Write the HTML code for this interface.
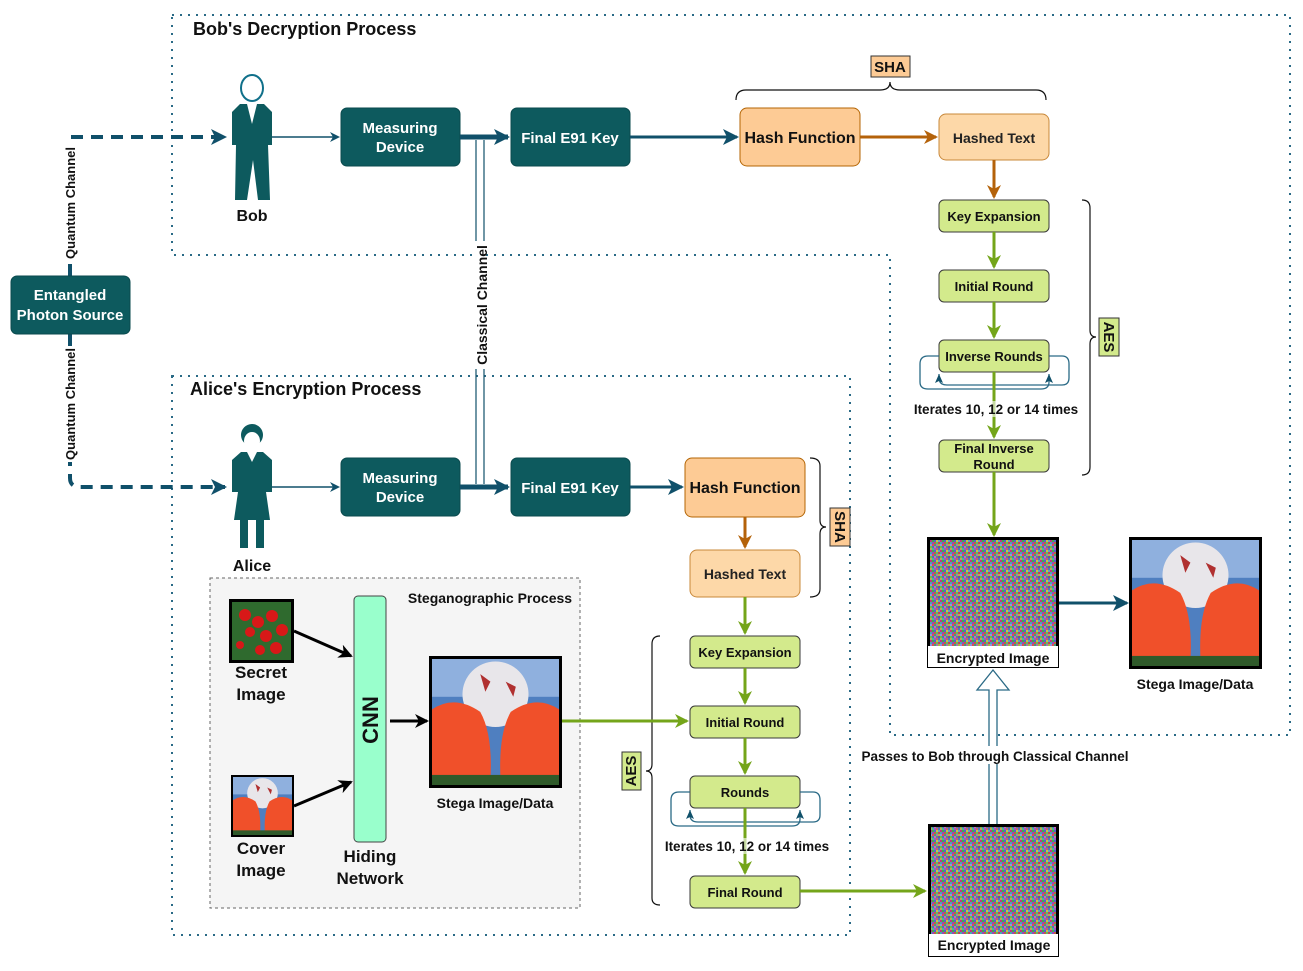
<!DOCTYPE html>
<html><head><meta charset="utf-8"><style>
html,body{margin:0;padding:0;background:#fff;}
svg text{font-family:"Liberation Sans",Arial,sans-serif;}
</style></head><body>
<svg width="1303" height="966" viewBox="0 0 1303 966" xmlns="http://www.w3.org/2000/svg">
<defs>
<marker id="mt" markerWidth="10" markerHeight="10" refX="8" refY="5" orient="auto" markerUnits="userSpaceOnUse"><path d="M0,0 L10,5 L0,10 L3,5 z" fill="#10506a"/></marker>
<marker id="mtb" markerWidth="16" markerHeight="16" refX="14" refY="8" orient="auto" markerUnits="userSpaceOnUse"><path d="M0,0 L16,8 L0,16 L4,8 z" fill="#10506a"/></marker>
<marker id="mg" markerWidth="14" markerHeight="14" refX="12" refY="7" orient="auto" markerUnits="userSpaceOnUse"><path d="M0,0 L14,7 L0,14 L4,7 z" fill="#74a51a"/></marker>
<marker id="mo" markerWidth="14" markerHeight="14" refX="12" refY="7" orient="auto" markerUnits="userSpaceOnUse"><path d="M0,0 L14,7 L0,14 L4,7 z" fill="#b4620a"/></marker>
<marker id="mk" markerWidth="14" markerHeight="14" refX="12" refY="7" orient="auto" markerUnits="userSpaceOnUse"><path d="M0,0 L14,7 L0,14 L4,7 z" fill="#000"/></marker>
<marker id="ms" markerWidth="8" markerHeight="9" refX="4" refY="0" orient="0" markerUnits="userSpaceOnUse"><path d="M0,9 L4,0 L8,9 L4,7 z" fill="#10506a"/></marker>
<pattern id="noise" width="10" height="10" patternUnits="userSpaceOnUse">
<rect width="10" height="10" fill="#8a7f8c"/>
<rect x="0" y="0" width="2" height="2" fill="#c23a7a"/><rect x="2" y="0" width="2" height="2" fill="#3bb04a"/><rect x="4" y="0" width="2" height="2" fill="#5060d0"/><rect x="6" y="0" width="2" height="2" fill="#d0c040"/><rect x="8" y="0" width="2" height="2" fill="#60a0c0"/>
<rect x="0" y="2" width="2" height="2" fill="#40b0b0"/><rect x="2" y="2" width="2" height="2" fill="#a040c0"/><rect x="4" y="2" width="2" height="2" fill="#c06040"/><rect x="6" y="2" width="2" height="2" fill="#60c060"/><rect x="8" y="2" width="2" height="2" fill="#c04060"/>
<rect x="0" y="4" width="2" height="2" fill="#9090e0"/><rect x="2" y="4" width="2" height="2" fill="#e05050"/><rect x="4" y="4" width="2" height="2" fill="#40a080"/><rect x="6" y="4" width="2" height="2" fill="#b070b0"/><rect x="8" y="4" width="2" height="2" fill="#a0c040"/>
<rect x="0" y="6" width="2" height="2" fill="#70c040"/><rect x="2" y="6" width="2" height="2" fill="#5070c0"/><rect x="4" y="6" width="2" height="2" fill="#d070a0"/><rect x="6" y="6" width="2" height="2" fill="#509090"/><rect x="8" y="6" width="2" height="2" fill="#8040a0"/>
<rect x="0" y="8" width="2" height="2" fill="#c0a060"/><rect x="2" y="8" width="2" height="2" fill="#40c090"/><rect x="4" y="8" width="2" height="2" fill="#a050d0"/><rect x="6" y="8" width="2" height="2" fill="#d06060"/><rect x="8" y="8" width="2" height="2" fill="#4080b0"/>
</pattern>
<g id="stega">
<rect x="0" y="0" width="100" height="100" fill="#4f7fc0"/>
<rect x="0" y="0" width="100" height="30" fill="#8fb0de"/>
<circle cx="50" cy="28" r="26" fill="#e8e6ea"/>
<path d="M38,12 l8,6 l-4,8 z M58,18 l8,4 l-2,8 z" fill="#b03030"/>
<path d="M0,40 Q18,28 38,42 Q48,60 46,96 L0,100 z" fill="#f0502a"/>
<path d="M100,40 Q82,28 62,42 Q52,60 54,96 L100,100 z" fill="#f0502a"/>
<rect x="0" y="92" width="100" height="8" fill="#2f5a2a"/>
</g>
</defs>

<path d="M172,15 H1290 V735 H890 V255 H172 Z" fill="none" stroke="#2a6a86" stroke-width="2" stroke-dasharray="2,6"/>
<path d="M172,376 H850 V935 H172 Z" fill="none" stroke="#2a6a86" stroke-width="2" stroke-dasharray="2,6"/>
<text x="193" y="35" font-size="18" font-weight="bold" fill="#111">Bob's Decryption Process</text>
<text x="190" y="395" font-size="18" font-weight="bold" fill="#111">Alice's Encryption Process</text>

<path d="M70,276 V137 H225" fill="none" stroke="#10506a" stroke-width="4" stroke-dasharray="12,8" marker-end="url(#mtb)"/>
<path d="M70,334 V478 Q70,487 80,487 H225" fill="none" stroke="#10506a" stroke-width="4" stroke-dasharray="12,8" marker-end="url(#mtb)"/>
<rect x="62" y="144" width="16" height="118" fill="#fff"/>
<text transform="translate(75,203) rotate(-90)" text-anchor="middle" font-size="13" font-weight="bold" fill="#111">Quantum Channel</text>
<rect x="62" y="346" width="16" height="116" fill="#fff"/>
<text transform="translate(75,404) rotate(-90)" text-anchor="middle" font-size="13" font-weight="bold" fill="#111">Quantum Channel</text>
<rect x="11" y="276" width="119" height="58" rx="6" fill="#0d5a5e" stroke="#0a4a4e"/>
<text x="70" y="300" text-anchor="middle" font-size="15" font-weight="bold" fill="#fff">Entangled</text>
<text x="70" y="320" text-anchor="middle" font-size="15" font-weight="bold" fill="#fff">Photon Source</text>

<g fill="#0d5a5e">
<ellipse cx="252" cy="88" rx="11" ry="13" fill="#fff" stroke="#10708a" stroke-width="2"/>
<path d="M240,104 H264 L272,112 V145 H268 L270,200 H258 L253,160 L247,200 H235 L236,145 H232 V112 Z"/>
</g>
<path d="M247,104 L252,124 L257,104 Z" fill="#fff"/>
<text x="252" y="221" text-anchor="middle" font-size="16" font-weight="bold" fill="#111">Bob</text>
<g fill="#0d5a5e">
<ellipse cx="252" cy="435" rx="11" ry="11"/>
<ellipse cx="252" cy="441" rx="8" ry="9" fill="#fff"/>
<path d="M241,452 H263 L272,460 V492 H266 L270,520 H234 L238,492 H232 V460 Z"/>
<rect x="240" y="518" width="8" height="30"/><rect x="256" y="518" width="8" height="30"/>
</g>
<path d="M247,452 L252,462 L257,452 Z" fill="#fff"/>
<text x="252" y="571" text-anchor="middle" font-size="16" font-weight="bold" fill="#111">Alice</text>

<line x1="272" y1="137" x2="338" y2="137" stroke="#10506a" stroke-width="1.5" marker-end="url(#mt)"/>
<line x1="272" y1="487" x2="338" y2="487" stroke="#10506a" stroke-width="1.5" marker-end="url(#mt)"/>

<line x1="476" y1="140" x2="476" y2="484" stroke="#10506a" stroke-width="1.2"/>
<line x1="484" y1="140" x2="484" y2="484" stroke="#10506a" stroke-width="1.2"/>
<rect x="474" y="241" width="12" height="128" fill="#fff"/>
<text transform="translate(487,305) rotate(-90)" text-anchor="middle" font-size="14" font-weight="bold" fill="#111">Classical Channel</text>

<g fill="#0d5a5e" stroke="#0a4a4e">
<rect x="341" y="108" width="119" height="58" rx="6"/>
<rect x="511" y="108" width="119" height="58" rx="6"/>
<rect x="341" y="458" width="119" height="58" rx="6"/>
<rect x="511" y="458" width="119" height="58" rx="6"/>
</g>
<g font-size="15" font-weight="bold" fill="#fff" text-anchor="middle">
<text x="400" y="133">Measuring</text><text x="400" y="152">Device</text>
<text x="570" y="143">Final E91 Key</text>
<text x="400" y="483">Measuring</text><text x="400" y="502">Device</text>
<text x="570" y="493">Final E91 Key</text>
</g>
<line x1="460" y1="137" x2="508" y2="137" stroke="#10506a" stroke-width="5" marker-end="url(#mtb)"/>
<line x1="460" y1="487" x2="508" y2="487" stroke="#10506a" stroke-width="5" marker-end="url(#mtb)"/>
<line x1="630" y1="137" x2="737" y2="137" stroke="#10506a" stroke-width="3" marker-end="url(#mtb)"/>
<line x1="630" y1="487" x2="682" y2="487" stroke="#10506a" stroke-width="3" marker-end="url(#mtb)"/>

<rect x="740" y="108" width="120" height="58" rx="7" fill="#fdcb95" stroke="#b46504"/>
<text x="800" y="143" text-anchor="middle" font-size="16" font-weight="bold" fill="#111">Hash Function</text>
<rect x="939" y="114" width="110" height="46" rx="7" fill="#fdd8a8" stroke="#c8883a"/>
<text x="994" y="143" text-anchor="middle" font-size="14" font-weight="bold" fill="#222">Hashed Text</text>
<line x1="860" y1="137" x2="936" y2="137" stroke="#b4620a" stroke-width="3" marker-end="url(#mo)"/>
<line x1="994" y1="160" x2="994" y2="197" stroke="#b4620a" stroke-width="3" marker-end="url(#mo)"/>
<path d="M736,100 Q736,90 746,90 H880 Q890,90 890,82 Q890,90 900,90 H1036 Q1046,90 1046,100" fill="none" stroke="#111" stroke-width="1.2"/>
<rect x="871" y="56" width="39" height="21" fill="#fdcb95" stroke="#333"/>
<text x="890" y="72" text-anchor="middle" font-size="15" font-weight="bold" fill="#111">SHA</text>

<g fill="#d3ea8c" stroke="#3a3a3a">
<rect x="939" y="200" width="110" height="32" rx="5"/>
<rect x="939" y="270" width="110" height="32" rx="5"/>
<rect x="939" y="340" width="110" height="32" rx="5"/>
<rect x="939" y="440" width="110" height="32" rx="5"/>
</g>
<g font-size="13" font-weight="bold" fill="#111" text-anchor="middle">
<text x="994" y="221">Key Expansion</text>
<text x="994" y="291">Initial Round</text>
<text x="994" y="361">Inverse Rounds</text>
<text x="994" y="453">Final Inverse</text><text x="994" y="469">Round</text>
</g>
<path d="M939,356 H928 Q920,356 920,364 V382 Q920,389 928,389 H1041 Q1049,389 1049,382 V374" fill="none" stroke="#2a6a86" stroke-width="1.3" marker-end="url(#ms)"/>
<path d="M1049,356 H1062 Q1069,356 1069,364 V378 Q1069,385 1062,385 H947 Q939,385 939,378 V374" fill="none" stroke="#2a6a86" stroke-width="1.3" marker-end="url(#ms)"/>
<line x1="994" y1="232" x2="994" y2="267" stroke="#74a51a" stroke-width="3" marker-end="url(#mg)"/>
<line x1="994" y1="302" x2="994" y2="337" stroke="#74a51a" stroke-width="3" marker-end="url(#mg)"/>
<line x1="994" y1="372" x2="994" y2="437" stroke="#74a51a" stroke-width="3" marker-end="url(#mg)"/>
<line x1="994" y1="472" x2="994" y2="535" stroke="#74a51a" stroke-width="3" marker-end="url(#mg)"/>
<rect x="910" y="401" width="172" height="16" fill="#fff" fill-opacity="0.6"/>
<text x="996" y="414" text-anchor="middle" font-size="13.5" font-weight="bold" fill="#111">Iterates 10, 12 or 14 times</text>
<path d="M1082,200 Q1090,200 1090,208 V330 Q1090,337 1096,337 Q1090,337 1090,344 V467 Q1090,475 1082,475" fill="none" stroke="#111" stroke-width="1.2"/>
<rect x="1099" y="318" width="20" height="38" fill="#d3ea8c" stroke="#333"/>
<text transform="translate(1104,337) rotate(90)" text-anchor="middle" font-size="15" font-weight="bold" fill="#111">AES</text>

<rect x="927" y="537" width="132" height="131" fill="#000"/>
<rect x="930" y="540" width="126" height="106" fill="url(#noise)"/>
<rect x="928" y="646" width="130" height="21" fill="#fff"/>
<text x="993" y="663" text-anchor="middle" font-size="14" font-weight="bold" fill="#111">Encrypted Image</text>
<line x1="1059" y1="603" x2="1127" y2="603" stroke="#10506a" stroke-width="3" marker-end="url(#mtb)"/>
<rect x="1129" y="537" width="133" height="132" fill="#000"/>
<use href="#stega" transform="translate(1132,540) scale(1.27,1.26)"/>
<text x="1195" y="689" text-anchor="middle" font-size="14" font-weight="bold" fill="#111">Stega Image/Data</text>

<path d="M989,824 V690 H977 L993,670 L1009,690 H997 V824" fill="#fff" stroke="#2a6a86" stroke-width="1.3"/>
<rect x="854" y="746" width="282" height="18" fill="#fff"/>
<text x="995" y="761" text-anchor="middle" font-size="13.5" font-weight="bold" fill="#111">Passes to Bob through Classical Channel</text>

<rect x="685" y="458" width="120" height="59" rx="7" fill="#fdcb95" stroke="#b46504"/>
<text x="745" y="493" text-anchor="middle" font-size="16" font-weight="bold" fill="#111">Hash Function</text>
<rect x="690" y="550" width="110" height="47" rx="7" fill="#fdd8a8" stroke="#c8883a"/>
<text x="745" y="579" text-anchor="middle" font-size="14" font-weight="bold" fill="#222">Hashed Text</text>
<line x1="745" y1="517" x2="745" y2="547" stroke="#b4620a" stroke-width="3" marker-end="url(#mo)"/>
<path d="M810,458 Q820,458 820,466 V520 Q820,527 826,527 Q820,527 820,534 V589 Q820,597 810,597" fill="none" stroke="#111" stroke-width="1.2"/>
<rect x="830" y="508" width="20" height="38" fill="#fdcb95" stroke="#333"/>
<text transform="translate(835,527) rotate(90)" text-anchor="middle" font-size="15" font-weight="bold" fill="#111">SHA</text>

<g fill="#d3ea8c" stroke="#3a3a3a">
<rect x="690" y="636" width="110" height="32" rx="5"/>
<rect x="690" y="706" width="110" height="32" rx="5"/>
<rect x="690" y="776" width="110" height="32" rx="5"/>
<rect x="690" y="876" width="110" height="32" rx="5"/>
</g>
<g font-size="13" font-weight="bold" fill="#111" text-anchor="middle">
<text x="745" y="657">Key Expansion</text>
<text x="745" y="727">Initial Round</text>
<text x="745" y="797">Rounds</text>
<text x="745" y="897">Final Round</text>
</g>
<path d="M690,792 H679 Q671,792 671,800 V819 Q671,826 679,826 H792 Q800,826 800,819 V810" fill="none" stroke="#2a6a86" stroke-width="1.3" marker-end="url(#ms)"/>
<path d="M800,792 H813 Q820,792 820,800 V815 Q820,822 813,822 H698 Q690,822 690,815 V810" fill="none" stroke="#2a6a86" stroke-width="1.3" marker-end="url(#ms)"/>
<line x1="745" y1="597" x2="745" y2="633" stroke="#74a51a" stroke-width="3" marker-end="url(#mg)"/>
<line x1="745" y1="668" x2="745" y2="703" stroke="#74a51a" stroke-width="3" marker-end="url(#mg)"/>
<line x1="745" y1="738" x2="745" y2="773" stroke="#74a51a" stroke-width="3" marker-end="url(#mg)"/>
<line x1="745" y1="808" x2="745" y2="873" stroke="#74a51a" stroke-width="3" marker-end="url(#mg)"/>
<rect x="660" y="838" width="176" height="16" fill="#fff" fill-opacity="0.6"/>
<text x="747" y="851" text-anchor="middle" font-size="13.5" font-weight="bold" fill="#111">Iterates 10, 12 or 14 times</text>
<path d="M660,636 Q652,636 652,644 V764 Q652,771 646,771 Q652,771 652,778 V898 Q652,905 660,905" fill="none" stroke="#111" stroke-width="1.2"/>
<rect x="622" y="752" width="19" height="38" fill="#d3ea8c" stroke="#333"/>
<text transform="translate(636,771) rotate(-90)" text-anchor="middle" font-size="15" font-weight="bold" fill="#111">AES</text>
<line x1="800" y1="891" x2="925" y2="891" stroke="#74a51a" stroke-width="3" marker-end="url(#mg)"/>

<rect x="928" y="824" width="131" height="133" fill="#000"/>
<rect x="931" y="827" width="125" height="107" fill="url(#noise)"/>
<rect x="929" y="934" width="129" height="22" fill="#fff"/>
<text x="994" y="950" text-anchor="middle" font-size="14" font-weight="bold" fill="#111">Encrypted Image</text>

<rect x="210" y="578" width="370" height="330" fill="#f5f5f5" stroke="#666" stroke-dasharray="3,3"/>
<text x="490" y="603" text-anchor="middle" font-size="14" font-weight="bold" fill="#111">Steganographic Process</text>
<rect x="229" y="599" width="65" height="64" fill="#000"/>
<rect x="232" y="602" width="59" height="58" fill="#2f6a2e"/>
<g fill="#d81818"><circle cx="245" cy="615" r="6"/><circle cx="258" cy="622" r="6"/><circle cx="272" cy="616" r="6"/><circle cx="282" cy="630" r="6"/><circle cx="266" cy="636" r="6"/><circle cx="250" cy="632" r="5"/><circle cx="276" cy="648" r="6"/><circle cx="260" cy="650" r="5"/><circle cx="240" cy="645" r="4"/></g>
<text x="261" y="678" text-anchor="middle" font-size="17" font-weight="bold" fill="#111">Secret</text>
<text x="261" y="700" text-anchor="middle" font-size="17" font-weight="bold" fill="#111">Image</text>
<rect x="231" y="775" width="63" height="62" fill="#000"/>
<use href="#stega" transform="translate(233,777) scale(0.59,0.58)"/>
<text x="261" y="854" text-anchor="middle" font-size="17" font-weight="bold" fill="#111">Cover</text>
<text x="261" y="876" text-anchor="middle" font-size="17" font-weight="bold" fill="#111">Image</text>
<line x1="294" y1="631" x2="351" y2="656" stroke="#000" stroke-width="3" marker-end="url(#mk)"/>
<line x1="294" y1="806" x2="351" y2="782" stroke="#000" stroke-width="3" marker-end="url(#mk)"/>
<rect x="354" y="596" width="32" height="246" rx="4" fill="#99ffcc" stroke="#444"/>
<text transform="translate(378,720) rotate(-90)" text-anchor="middle" font-size="22" font-weight="bold" fill="#111">CNN</text>
<text x="370" y="862" text-anchor="middle" font-size="17" font-weight="bold" fill="#111">Hiding</text>
<text x="370" y="884" text-anchor="middle" font-size="17" font-weight="bold" fill="#111">Network</text>
<line x1="390" y1="721" x2="427" y2="721" stroke="#000" stroke-width="3" marker-end="url(#mk)"/>
<rect x="429" y="656" width="133" height="132" fill="#000"/>
<use href="#stega" transform="translate(432,659) scale(1.27,1.26)"/>
<text x="495" y="808" text-anchor="middle" font-size="14" font-weight="bold" fill="#111">Stega Image/Data</text>
<line x1="562" y1="721" x2="687" y2="721" stroke="#74a51a" stroke-width="3" marker-end="url(#mg)"/>
</svg>
</body></html>
